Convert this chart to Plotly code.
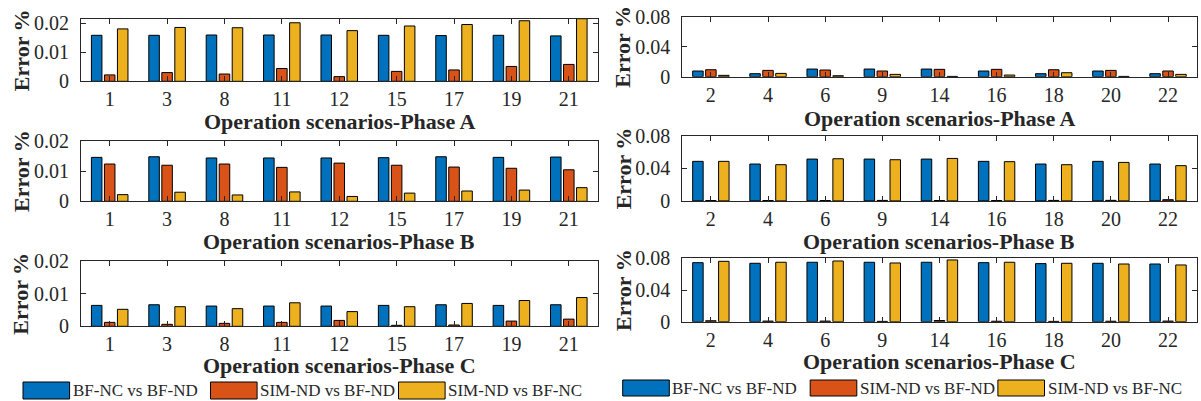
import plotly.graph_objects as go

# ---------------- data ----------------
left_cats = ["1", "3", "8", "11", "12", "15", "17", "19", "21"]
right_cats = ["2", "4", "6", "9", "14", "16", "18", "20", "22"]
series_names = ["BF-NC vs BF-ND", "SIM-ND vs BF-ND", "SIM-ND vs BF-NC"]
colors = ["#0072BD", "#D95319", "#EDB120"]

# Left column (scenarios 1..21)
lA_bfnc = [0.0158, 0.0158, 0.0159, 0.0159, 0.0159, 0.0158, 0.0157, 0.0158, 0.0156]
lA_simnd = [0.0022, 0.0030, 0.0025, 0.0044, 0.0016, 0.0034, 0.0039, 0.0051, 0.0058]
lA_simnc = [0.0180, 0.0185, 0.0184, 0.0201, 0.0174, 0.0190, 0.0195, 0.0208, 0.0215]

lB_bfnc = [0.0145, 0.0147, 0.0143, 0.0143, 0.0143, 0.0144, 0.0147, 0.0145, 0.0146]
lB_simnd = [0.0123, 0.0119, 0.0123, 0.0112, 0.0126, 0.0119, 0.0113, 0.0109, 0.0104]
lB_simnc = [0.0022, 0.0030, 0.0021, 0.0031, 0.0016, 0.0027, 0.0034, 0.0037, 0.0045]

lC_bfnc = [0.0064, 0.0066, 0.0062, 0.0062, 0.0062, 0.0064, 0.0066, 0.0064, 0.0066]
lC_simnd = [0.0012, 0.0006, 0.0009, 0.0012, 0.0018, 0.0003, 0.0004, 0.0016, 0.0022]
lC_simnc = [0.0052, 0.0060, 0.0054, 0.0072, 0.0045, 0.0060, 0.0070, 0.0079, 0.0088]

# Right column (scenarios 2..22)
rA_bfnc = [0.0076, 0.0040, 0.0102, 0.0102, 0.0102, 0.0076, 0.0040, 0.0076, 0.0040]
rA_simnd = [0.0093, 0.0084, 0.0089, 0.0076, 0.0098, 0.0098, 0.0093, 0.0084, 0.0076]
rA_simnc = [0.0018, 0.0044, 0.0013, 0.0031, 0.0004, 0.0022, 0.0053, 0.0004, 0.0031]

rB_bfnc = [0.0486, 0.0453, 0.0514, 0.0514, 0.0514, 0.0486, 0.0453, 0.0486, 0.0453]
rB_simnd = [0.0005, 0.0005, 0.0005, 0.0006, 0.0005, 0.0005, 0.0006, 0.0007, 0.0015]
rB_simnc = [0.0486, 0.0445, 0.0518, 0.0506, 0.0522, 0.0482, 0.0445, 0.0473, 0.0433]

rC_bfnc = [0.0745, 0.0737, 0.0750, 0.0750, 0.0750, 0.0745, 0.0733, 0.0737, 0.0728]
rC_simnd = [0.0012, 0.0008, 0.0008, 0.0004, 0.0015, 0.0006, 0.0004, 0.0006, 0.0008]
rC_simnc = [0.0762, 0.0750, 0.0766, 0.0741, 0.0779, 0.0750, 0.0737, 0.0728, 0.0716]

left_yticks = [0, 0.01, 0.02]
left_yticktext = ["0", "0.01", "0.02"]
right_yticks = [0, 0.04, 0.08]
right_yticktext = ["0", "0.04", "0.08"]

titles = ["Operation scenarios-Phase A", "Operation scenarios-Phase B",
          "Operation scenarios-Phase C"]
ytitle = "Error %"

# ---------------- layout geometry (pixels) ----------------
W, H = 1201, 401
FONT = "Liberation Serif"
TXT = "#262626"

panels = [
    # cats, series, (x0,x1), (ytop,ybottom), yrange, ticks, ticktext, title, title_y
    (left_cats, [lA_bfnc, lA_simnd, lA_simnc], (81, 597.5), (19, 81.3), [0, 0.0214],
     left_yticks, left_yticktext, titles[0], 121.5),
    (left_cats, [lB_bfnc, lB_simnd, lB_simnc], (81, 597.5), (140.7, 201.3), [0, 0.02],
     left_yticks, left_yticktext, titles[1], 241),
    (left_cats, [lC_bfnc, lC_simnd, lC_simnc], (81, 597.5), (261, 326.3), [0, 0.02],
     left_yticks, left_yticktext, titles[2], 365.8),
    (right_cats, [rA_bfnc, rA_simnd, rA_simnc], (682.3, 1196.6), (16.7, 76.7), [0, 0.08],
     right_yticks, right_yticktext, titles[0], 118),
    (right_cats, [rB_bfnc, rB_simnd, rB_simnc], (682.3, 1196.6), (135.8, 200.9), [0, 0.08],
     right_yticks, right_yticktext, titles[1], 241),
    (right_cats, [rC_bfnc, rC_simnd, rC_simnc], (682.3, 1196.6), (258.3, 321.7), [0, 0.08],
     right_yticks, right_yticktext, titles[2], 361),
]

fig = go.Figure()
layout = dict(
    template="none",
    width=W, height=H, autosize=False,
    margin=dict(l=0, r=0, t=0, b=0, pad=0, autoexpand=False),
    paper_bgcolor="white", plot_bgcolor="white",
    barmode="group", bargap=0.32, bargroupgap=0.19,
    showlegend=False,
    font=dict(family=FONT, color=TXT, size=20),
)

annotations = []
shapes = []

for i, (cats, series, (x0, x1), (yt, yb), yr, tv, tt, title, ty) in enumerate(panels):
    n = "" if i == 0 else str(i + 1)
    for s, vals in enumerate(series):
        fig.add_trace(go.Bar(
            x=cats, y=vals, name=series_names[s],
            marker=dict(color=colors[s], line=dict(color="#000000", width=1)),
            xaxis="x" + n, yaxis="y" + n, showlegend=False, hoverinfo="skip",
        ))
    common = dict(showline=True, mirror="ticks", linecolor=TXT, linewidth=1,
                  ticks="inside", ticklen=5, tickcolor=TXT, tickwidth=1,
                  showgrid=False, zeroline=False, automargin=False,
                  tickfont=dict(family=FONT, size=20, color=TXT))
    layout["xaxis" + n] = dict(domain=[x0 / W, x1 / W], anchor="y" + n,
                               type="category", range=[-0.5, 8.5],
                               ticklabelstandoff=0, **common)
    layout["yaxis" + n] = dict(domain=[1 - yb / H, 1 - yt / H], anchor="x" + n,
                               range=yr, tickvals=tv, ticktext=tt,
                               ticklabelstandoff=7, **common)
    # x title
    annotations.append(dict(text="<b>" + title + "</b>", xref="paper", yref="paper",
                            x=(x0 + x1) / 2 / W, y=1 - ty / H, xanchor="center",
                            yanchor="middle", showarrow=False, borderpad=0,
                            font=dict(family=FONT, size=22, color=TXT)))
    # y title
    yx = 21 if x0 < 300 else 623
    annotations.append(dict(text="<b>" + ytitle + "</b>", xref="paper", yref="paper",
                            x=yx / W, y=1 - (yt + yb) / 2 / H, xanchor="center",
                            yanchor="middle", textangle=-90, showarrow=False,
                            borderpad=0,
                            font=dict(family=FONT, size=22, color=TXT)))

# ---------------- legends (one below each column) ----------------
legend_rows = [
    ([23, 210.5, 398.5], (382, 399)),
    ([622.7, 810.2, 997.9], (380, 396)),
]
for starts, (ly0, ly1) in legend_rows:
    for j, sx0 in enumerate(starts):
        sx1 = sx0 + 46.6
        shapes.append(dict(type="rect", xref="paper", yref="paper",
                           x0=sx0 / W, x1=sx1 / W, y0=1 - ly1 / H, y1=1 - ly0 / H,
                           fillcolor=colors[j], line=dict(color="#000000", width=1)))
        annotations.append(dict(text=series_names[j], xref="paper", yref="paper",
                                x=(sx1 + 2) / W, y=1 - (ly0 + ly1) / 2 / H,
                                xanchor="left", yanchor="middle", showarrow=False,
                                borderpad=0,
                                font=dict(family=FONT, size=17, color=TXT)))

layout["annotations"] = annotations
layout["shapes"] = shapes
fig.update_layout(**layout)
fig.write_html(
    "out.html",
    config={"displayModeBar": False, "staticPlot": True},
    post_script="document.body.style.margin='0';document.body.style.padding='0';"
                "document.documentElement.style.overflow='hidden';",
)
